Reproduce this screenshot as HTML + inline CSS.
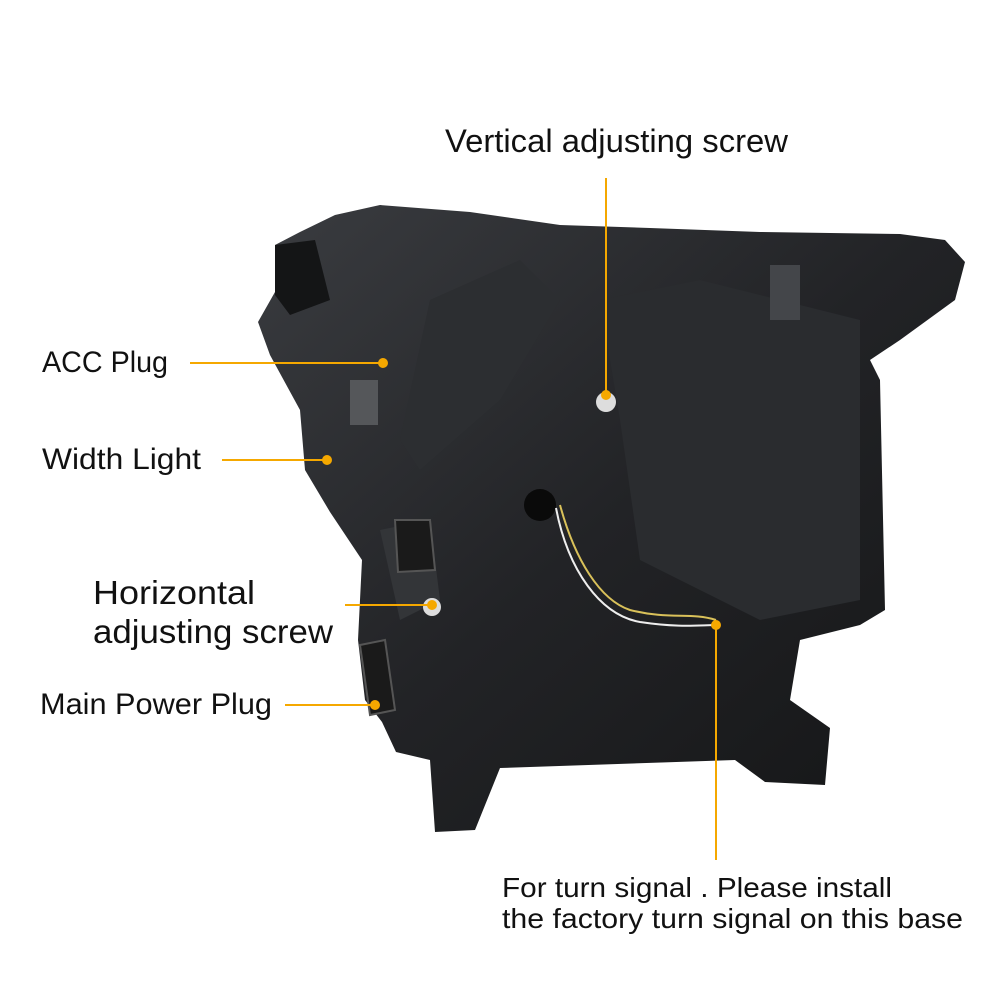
<!DOCTYPE html>
<html><head><meta charset="utf-8"><style>
html,body{margin:0;padding:0;background:#fff;}
svg{display:block;}
text{font-family:"Liberation Sans","DejaVu Sans",sans-serif;fill:#111;}
</style></head><body>
<svg width="1000" height="1000" viewBox="0 0 1000 1000" xmlns="http://www.w3.org/2000/svg">
<defs>
<linearGradient id="g" x1="0" y1="0" x2="1" y2="1">
<stop offset="0" stop-color="#3a3c40"/><stop offset="0.5" stop-color="#222326"/><stop offset="1" stop-color="#141516"/>
</linearGradient>
</defs>
<rect width="1000" height="1000" fill="#fff"/>
<path d="M275,245 L300,232 L335,215 L380,205 L470,212 L560,225 L650,228 L760,232 L900,234 L945,240 L965,262 L955,300 L900,340 L870,360 L880,380 L885,610 L860,625 L800,640 L790,700 L830,728 L825,785 L765,782 L735,760 L500,768 L475,830 L435,832 L430,760 L396,752 L382,722 L365,700 L358,640 L362,560 L330,512 L305,470 L300,410 L270,355 L258,322 L275,292 Z" fill="url(#g)"/>
<path d="M275,245 L315,240 L330,300 L290,315 L275,295 Z" fill="#141516"/>
<path d="M430,300 L520,260 L560,300 L500,400 L420,470 L400,440 Z" fill="#2c2e31"/>
<path d="M600,300 L700,280 L860,320 L860,600 L760,620 L640,560 L620,420 Z" fill="#2a2c2f"/>
<path d="M380,530 L430,520 L440,600 L400,620 Z" fill="#333538"/>
<rect x="770" y="265" width="30" height="55" fill="#44464a"/>
<rect x="350" y="380" width="28" height="45" fill="#55575a"/>
<circle cx="540" cy="505" r="16" fill="#0a0a0a"/>
<path d="M395,520 L430,520 L435,570 L398,572 Z" fill="#1a1a1a" stroke="#555" stroke-width="2"/>
<path d="M360,645 L385,640 L395,710 L370,715 Z" fill="#1a1a1a" stroke="#555" stroke-width="2"/>
<circle cx="606" cy="402" r="10" fill="#ddd"/>
<circle cx="432" cy="607" r="9" fill="#ddd"/>
<path d="M560,505 C575,560 600,600 630,610 C670,620 690,612 716,620" stroke="#d9c15a" stroke-width="2" fill="none"/>
<path d="M556,508 C568,570 600,615 640,622 C680,628 700,625 716,625" stroke="#eee" stroke-width="2" fill="none"/>
<g stroke="#f5a800" stroke-width="2" fill="none">
<line x1="606" y1="178" x2="606" y2="395"/>
<line x1="190" y1="363" x2="383" y2="363"/>
<line x1="222" y1="460" x2="327" y2="460"/>
<line x1="345" y1="605" x2="432" y2="605"/>
<line x1="285" y1="705" x2="375" y2="705"/>
<line x1="716" y1="625" x2="716" y2="860"/>
</g>
<g fill="#f5a800">
<circle cx="606" cy="395" r="5"/>
<circle cx="383" cy="363" r="5"/>
<circle cx="327" cy="460" r="5"/>
<circle cx="432" cy="605" r="5"/>
<circle cx="375" cy="705" r="5"/>
<circle cx="716" cy="625" r="5"/>
</g>
<text x="445" y="152" font-size="32" textLength="343" lengthAdjust="spacingAndGlyphs">Vertical adjusting screw</text>
<text x="42" y="372" font-size="30" textLength="126" lengthAdjust="spacingAndGlyphs">ACC Plug</text>
<text x="42" y="469" font-size="30" textLength="159" lengthAdjust="spacingAndGlyphs">Width Light</text>
<text x="93" y="604" font-size="33" textLength="162" lengthAdjust="spacingAndGlyphs">Horizontal</text>
<text x="93" y="643" font-size="33" textLength="240" lengthAdjust="spacingAndGlyphs">adjusting screw</text>
<text x="40" y="714" font-size="30" textLength="232" lengthAdjust="spacingAndGlyphs">Main Power Plug</text>
<text x="502" y="897" font-size="28" textLength="390" lengthAdjust="spacingAndGlyphs">For turn signal . Please install</text>
<text x="502" y="928" font-size="28" textLength="461" lengthAdjust="spacingAndGlyphs">the factory turn signal on this base</text>
</svg>
</body></html>
